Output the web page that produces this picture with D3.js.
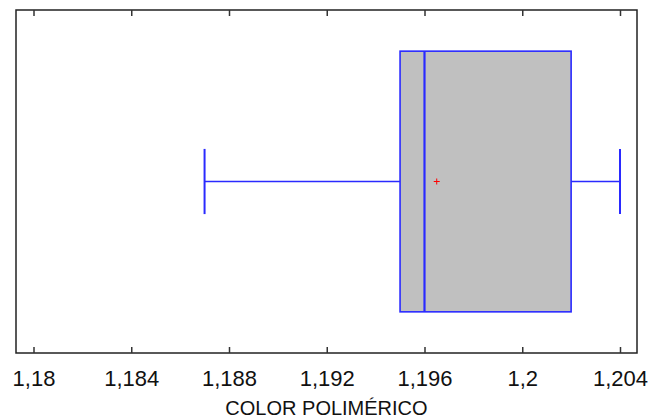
<!DOCTYPE html>
<html><head><meta charset="utf-8">
<script src="https://cdn.jsdelivr.net/npm/d3@7"></script>
<style>body{margin:0;background:#fff}svg{display:block}</style>
</head><body><svg id="c" width="650" height="418"></svg>
<script>
const tickValues = [1.18, 1.184, 1.188, 1.192, 1.196, 1.2, 1.204];
const tickLabels = ["1,18", "1,184", "1,188", "1,192", "1,196", "1,2", "1,204"];
const whiskerLow = [1.187];
const q1 = [1.195];
const median = [1.196];
const q3 = [1.202];
const whiskerHigh = [1.204];
const mean = [1.1965];
const axisTitle = "COLOR POLIMÉRICO";

(function () {
const svg = d3.select("#c");
const L = 16, R = 637, T = 10, B = 353;
const x = d3.scaleLinear().domain([1.18, 1.204]).range([33.5, 620]);
const y = d3.scaleLinear().domain([0, 1]).range([B, T]);
const blue = "#2a2aff";
const font = "'Liberation Sans', Arial, sans-serif";

svg.append("rect").attr("x", L).attr("y", T).attr("width", R - L).attr("height", B - T)
  .attr("fill", "none").attr("stroke", "#222").attr("stroke-width", 1.5);

const bottomAxis = svg.append("g").attr("transform", `translate(0,${B})`)
  .call(d3.axisBottom(x).tickValues(tickValues).tickSize(-6).tickPadding(17)
    .tickFormat((d, i) => tickLabels[i]));
bottomAxis.attr("font-size", null).attr("font-family", null);
bottomAxis.select(".domain").remove();
bottomAxis.selectAll(".tick line").attr("stroke", "#333").attr("stroke-width", 1.5);
bottomAxis.selectAll(".tick text").style("font-family", font).style("font-size", "22px").attr("fill", "#111");

const topAxis = svg.append("g").attr("transform", `translate(0,${T})`)
  .call(d3.axisTop(x).tickValues(tickValues).tickSize(-6).tickFormat(""));
topAxis.select(".domain").remove();
topAxis.selectAll(".tick line").attr("stroke", "#333").attr("stroke-width", 1.5);

const cy = y(0.5);
const boxTop = y(0.88), boxBot = y(0.12);
const capTop = y(0.595), capBot = y(0.405);

svg.append("line").attr("x1", x(whiskerLow[0])).attr("x2", x(q1[0])).attr("y1", cy).attr("y2", cy)
  .attr("stroke", blue).attr("stroke-width", 1.3);
svg.append("line").attr("x1", x(q3[0])).attr("x2", x(whiskerHigh[0])).attr("y1", cy).attr("y2", cy)
  .attr("stroke", blue).attr("stroke-width", 1.3);
svg.append("line").attr("x1", x(whiskerLow[0])).attr("x2", x(whiskerLow[0])).attr("y1", capTop).attr("y2", capBot)
  .attr("stroke", blue).attr("stroke-width", 2);
svg.append("line").attr("x1", x(whiskerHigh[0])).attr("x2", x(whiskerHigh[0])).attr("y1", capTop).attr("y2", capBot)
  .attr("stroke", blue).attr("stroke-width", 2);

svg.append("rect").attr("x", x(q1[0])).attr("y", boxTop)
  .attr("width", x(q3[0]) - x(q1[0])).attr("height", boxBot - boxTop)
  .attr("fill", "#c0c0c0").attr("stroke", blue).attr("stroke-width", 1.6);
svg.append("line").attr("x1", x(median[0])).attr("x2", x(median[0])).attr("y1", boxTop).attr("y2", boxBot)
  .attr("stroke", blue).attr("stroke-width", 2.2);

const mx = x(mean[0]);
svg.append("path").attr("d", `M${mx - 3},${cy}H${mx + 3}M${mx},${cy - 3}V${cy + 3}`)
  .attr("stroke", "#ff0000").attr("stroke-width", 1);

svg.append("text").attr("x", (L + R) / 2).attr("y", 415).attr("text-anchor", "middle")
  .style("font-family", font).style("font-size", "20px").attr("fill", "#111").text(axisTitle);
})();
</script></body></html>
